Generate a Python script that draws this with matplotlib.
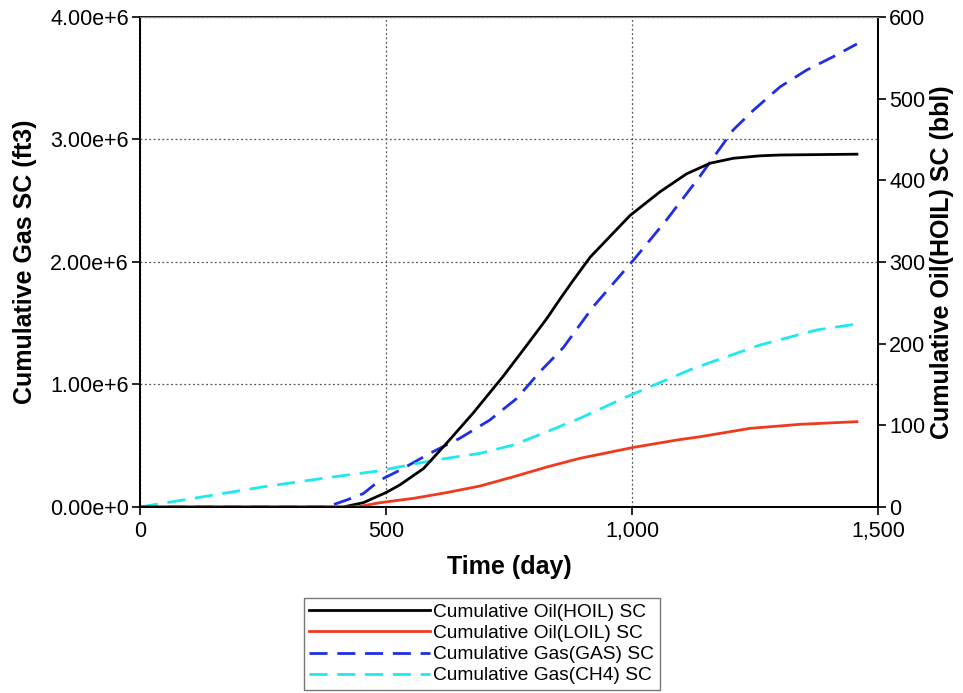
import matplotlib
matplotlib.use("Agg")
import matplotlib.pyplot as plt
from matplotlib.ticker import FuncFormatter, FixedLocator
import numpy as np

plt.rcParams['font.family'] = ['Liberation Sans', 'DejaVu Sans']

# Cumulative Oil(HOIL) SC (bbl, right axis)
hoil_days = [0, 413, 454, 501, 528, 576, 623, 677, 738, 786, 827, 854, 881, 915, 996, 1057,
             1111, 1159, 1206, 1260, 1301, 1457]
hoil_vals = [0, 0, 5.3, 18, 27, 47, 78, 115, 160, 198, 231, 255, 278, 306, 357, 386,
             408, 421, 427, 430, 431, 432]

# Cumulative Oil(LOIL) SC (bbl, right axis)
loil_days = [0, 440, 488, 556, 623, 691, 759, 827, 894, 1003, 1091, 1138, 1240, 1341, 1457]
loil_vals = [0, 0, 5.3, 10.6, 17.6, 25.7, 37, 49, 59.6, 73, 82, 86, 96.3, 101.2, 104.5]

# Cumulative Gas(GAS) SC (ft3, left axis)
gas_days = [0, 379, 420, 454, 488, 528, 589, 650, 711, 766, 813, 860, 921, 1003, 1070, 1138,
            1206, 1247, 1301, 1355, 1409, 1457]
gas_vals = [0, 0, 0.057e6, 0.11e6, 0.22e6, 0.30e6, 0.438e6, 0.561e6, 0.71e6, 0.887e6, 1.105e6,
            1.30e6, 1.635e6, 2.016e6, 2.343e6, 2.70e6, 3.08e6, 3.24e6, 3.43e6, 3.567e6,
            3.676e6, 3.78e6]

# Cumulative Gas(CH4) SC (ft3, left axis)
ch4_days = [0, 115, 251, 386, 488, 556, 623, 691, 759, 827, 894, 989, 1125, 1260, 1375, 1457]
ch4_vals = [0, 0.075e6, 0.165e6, 0.242e6, 0.296e6, 0.351e6, 0.397e6, 0.438e6, 0.506e6,
            0.615e6, 0.724e6, 0.90e6, 1.132e6, 1.322e6, 1.445e6, 1.494e6]

x_ticks = [0, 500, 1000, 1500]
left_ticks = [0, 1e6, 2e6, 3e6, 4e6]
right_ticks = [0, 100, 200, 300, 400, 500, 600]

fig = plt.figure(figsize=(9.63, 6.93), dpi=100)
ax = fig.add_axes([0.1454, 0.2684, 0.7664, 0.7071])
ax2 = ax.twinx()

dash = (0, (6.5, 3.5))
l3, = ax.plot(gas_days, gas_vals, color='#1f2ee6', lw=2, linestyle=dash, label='Cumulative Gas(GAS) SC')
l4, = ax.plot(ch4_days, ch4_vals, color='#1ee8f0', lw=2, linestyle=dash, label='Cumulative Gas(CH4) SC')
l1, = ax2.plot(hoil_days, hoil_vals, color='black', lw=2, label='Cumulative Oil(HOIL) SC')
l2, = ax2.plot(loil_days, loil_vals, color='#f03a1e', lw=2, label='Cumulative Oil(LOIL) SC')

ax.set_xlim(0, 1500)
ax.set_ylim(0, 4e6)
ax2.set_ylim(0, 600)
ax.xaxis.set_major_locator(FixedLocator(x_ticks))
ax.yaxis.set_major_locator(FixedLocator(left_ticks))
ax2.yaxis.set_major_locator(FixedLocator(right_ticks))

def fmt_left(v, pos):
    if v == 0:
        return '0.00e+0'
    e = int(np.floor(np.log10(abs(v))))
    return f'{v/10**e:.2f}e+{e}'

ax.yaxis.set_major_formatter(FuncFormatter(fmt_left))
ax.xaxis.set_major_formatter(FuncFormatter(lambda v, p: f'{int(v):,}'))
ax2.yaxis.set_major_formatter(FuncFormatter(lambda v, p: f'{int(v)}'))

ax.grid(True, linestyle=(0, (1.5, 2)), color='#555555', lw=0.9)
for a in (ax, ax2):
    a.tick_params(direction='out', length=6, width=1.2, labelsize=15.5, colors='black', pad=2)
    for s in a.spines.values():
        s.set_linewidth(1.3)
ax.tick_params(axis='x', pad=4)
ax2.spines['top'].set_color('#888888')
ax2.spines['top'].set_linewidth(0.8)

ax.set_xlabel('Time (day)', fontsize=18, fontweight='bold')
ax.set_ylabel('Cumulative Gas SC (ft3)', fontsize=18, fontweight='bold')
ax2.set_ylabel('Cumulative Oil(HOIL) SC (bbl)', fontsize=18, fontweight='bold')
ax.xaxis.set_label_coords(0.5, -0.122)
ax.yaxis.set_label_coords(-0.156, 0.5)
ax2.yaxis.set_label_coords(1.087, 0.5)
ax.yaxis.label.set_va('center')
ax2.yaxis.label.set_va('center')
ax.xaxis.label.set_va('center')

leg = fig.legend(handles=[l1, l2, l3, l4], loc='lower center', bbox_to_anchor=(0.5, 0.004),
                 ncol=1, fontsize=13.8, handlelength=6.3, handletextpad=0.15,
                 fancybox=False, frameon=True, edgecolor='#555555', labelspacing=0.2,
                 borderpad=0.3, borderaxespad=0)
leg.get_frame().set_linewidth(1.0)

fig.savefig('out.png', dpi=100)
